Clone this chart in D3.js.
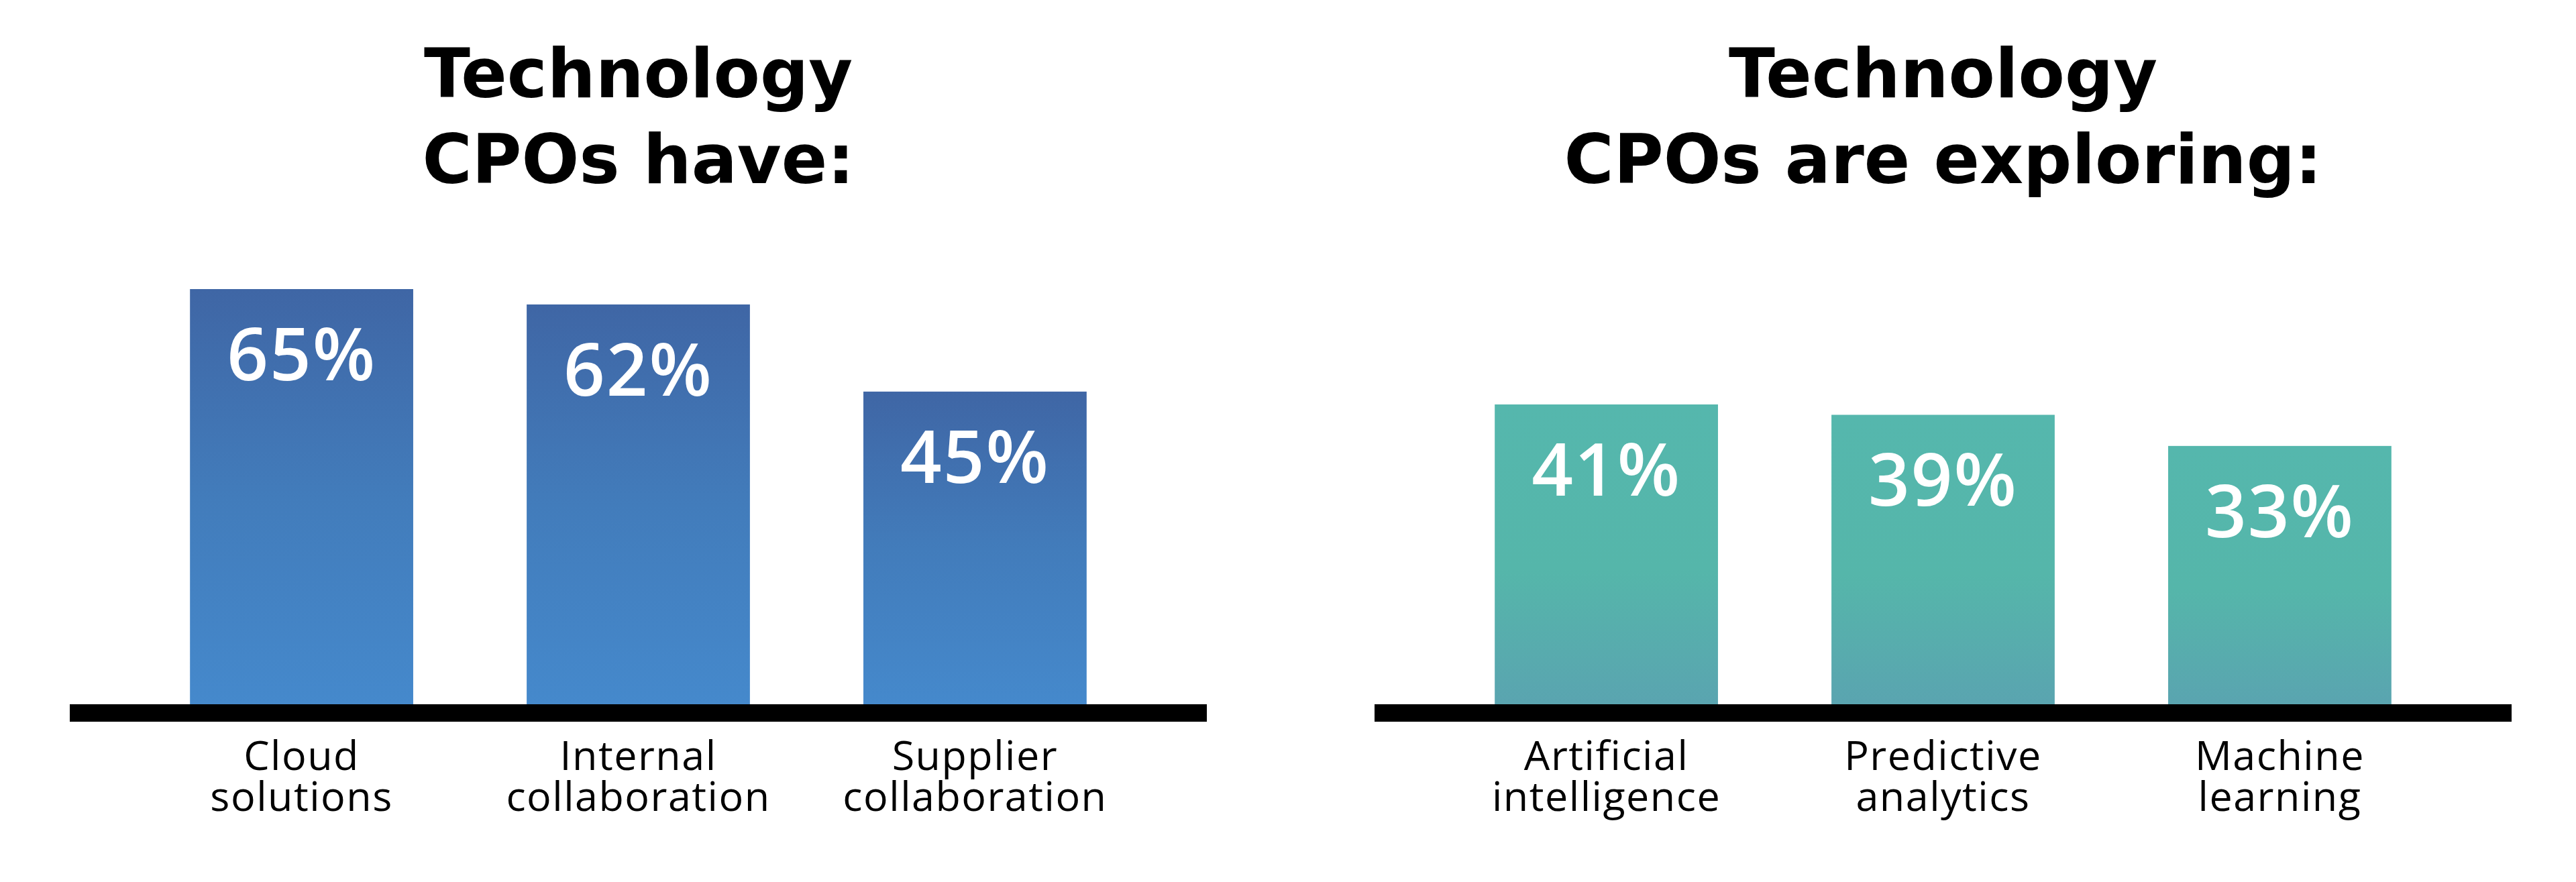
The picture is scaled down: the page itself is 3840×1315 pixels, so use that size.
<!DOCTYPE html>
<html>
<head>
<meta charset="utf-8">
<script src="https://cdn.jsdelivr.net/npm/d3@7"></script>
<style>
  html, body { margin: 0; padding: 0; background: #ffffff; }
  svg { display: block; }
</style>
</head>
<body>
<svg id="chart" width="3840" height="1315"></svg>
<script>
// ---- data ----
const leftTitle = ["Technology", "CPOs have:"];
const leftCategories = [["Cloud", "solutions"], ["Internal", "collaboration"], ["Supplier", "collaboration"]];
const leftValues = [65, 62, 45];

const rightTitle = ["Technology", "CPOs are exploring:"];
const rightCategories = [["Artificial", "intelligence"], ["Predictive", "analytics"], ["Machine", "learning"]];
const rightValues = [41, 39, 33];

// ---- layout ----
const svg = d3.select("#chart");
const defs = svg.append("defs");

function grad(id, stops) {
  const g = defs.append("linearGradient").attr("id", id)
    .attr("x1", 0).attr("y1", 0).attr("x2", 0).attr("y2", 1);
  stops.forEach(s => g.append("stop").attr("offset", s[0]).attr("stop-color", s[1]));
}
grad("blueGrad", [[0, "#3f66a5"], [0.5, "#427cbb"], [1, "#4589cc"]]);
grad("tealGrad", [[0, "#55b7ad"], [0.55, "#55b6aa"], [1, "#5aa4b0"]]);

const baseY = 1050;
const axisThick = 26;
const fontTitle = "'DejaVu Sans', sans-serif";
const fontBody = "'Open Sans', sans-serif";

function panel(opts) {
  const g = svg.append("g");
  const x = d3.scaleBand()
    .domain(opts.categories.map((c, i) => i))
    .range([opts.x0, opts.x0 + 1695])
    .paddingInner(0.337)
    .paddingOuter(0.357);
  const y = d3.scaleLinear().domain(opts.yDomain).range([baseY, opts.topY]);

  // title
  g.append("text")
    .attr("x", opts.x0 + 1695 / 2)
    .attr("text-anchor", "middle")
    .attr("font-family", fontTitle)
    .attr("font-weight", 700)
    .attr("font-size", 101)
    .attr("fill", "#000")
    .selectAll("tspan").data(opts.title).join("tspan")
    .attr("x", opts.x0 + 1695 / 2)
    .attr("y", (d, i) => 145 + i * 128)
    .text(d => d);

  // bars
  g.selectAll("rect.bar").data(opts.values).join("rect")
    .attr("class", "bar")
    .attr("x", (d, i) => x(i))
    .attr("width", x.bandwidth())
    .attr("y", d => y(d))
    .attr("height", d => baseY - y(d) + 2)
    .attr("fill", `url(#${opts.grad})`);

  // value labels
  g.selectAll("text.val").data(opts.values).join("text")
    .attr("class", "val")
    .attr("x", (d, i) => x(i) + x.bandwidth() / 2)
    .attr("y", d => y(d) + 136)
    .attr("text-anchor", "middle")
    .attr("font-family", fontBody)
    .attr("font-weight", 600)
    .attr("font-size", 108)
    .attr("letter-spacing", 2)
    .attr("fill", "#ffffff")
    .text(d => d + "%");

  // axis line
  g.append("line")
    .attr("x1", opts.x0).attr("x2", opts.x0 + 1695)
    .attr("y1", baseY + axisThick / 2).attr("y2", baseY + axisThick / 2)
    .attr("stroke", "#000").attr("stroke-width", axisThick);

  // category labels
  const cat = g.selectAll("text.cat").data(opts.categories).join("text")
    .attr("class", "cat")
    .attr("text-anchor", "middle")
    .attr("font-family", fontBody)
    .attr("font-weight", 500)
    .attr("font-size", 61)
    .attr("letter-spacing", 1.5)
    .attr("fill", "#000");
  cat.selectAll("tspan").data((d, i) => d.map(t => ({ t, i }))).join("tspan")
    .attr("x", d => x(d.i) + x.bandwidth() / 2)
    .attr("y", (d, j) => 1148 + j * 61)
    .text(d => d.t);
}

panel({ title: leftTitle, categories: leftCategories, values: leftValues,
        x0: 104, yDomain: [-16, 65], topY: 431, grad: "blueGrad" });
panel({ title: rightTitle, categories: rightCategories, values: rightValues,
        x0: 2049, yDomain: [-16.8, 41], topY: 603, grad: "tealGrad" });
</script>
</body>
</html>
